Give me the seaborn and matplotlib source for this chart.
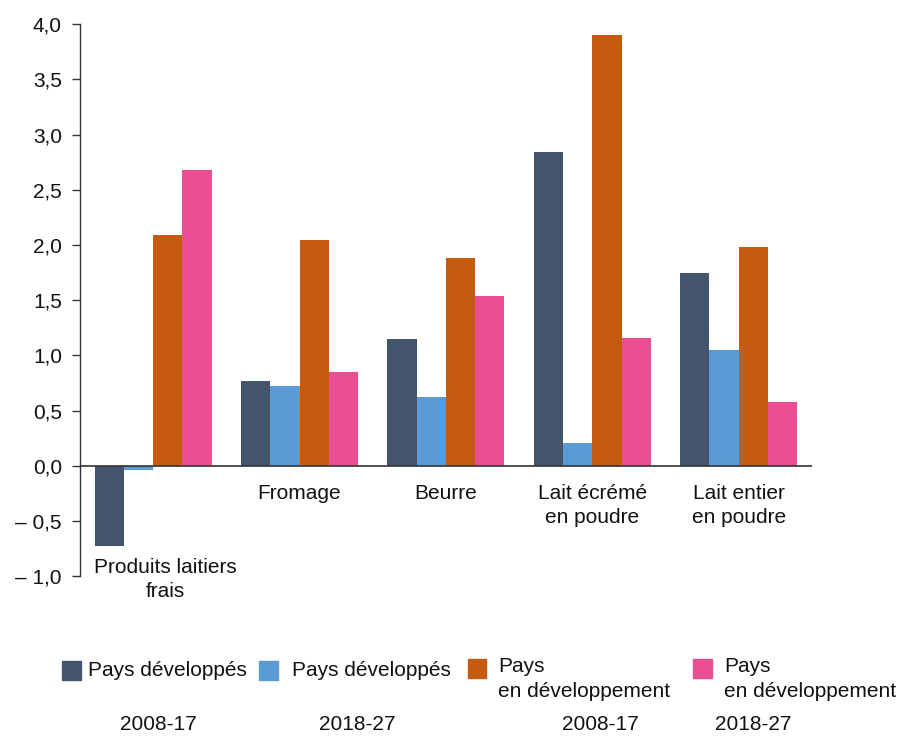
import matplotlib
matplotlib.use("Agg")
from matplotlib import pyplot as plt
from matplotlib.patches import Rectangle
import numpy as np
import pandas as pd
import seaborn as sns

categories = ["Produits laitiers\nfrais", "Fromage", "Beurre",
              "Lait écrémé\nen poudre", "Lait entier\nen poudre"]
series = ["dev_0817", "dev_1827", "ed_0817", "ed_1827"]
dev_0817 = [-0.73, 0.77, 1.15, 2.84, 1.75]
dev_1827 = [-0.04, 0.72, 0.62, 0.21, 1.05]
ed_0817 = [2.09, 2.05, 1.88, 3.90, 1.98]
ed_1827 = [2.68, 0.85, 1.54, 1.16, 0.58]
legend_labels = ["Pays développés", "Pays développés",
                 "Pays\nen développement", "Pays\nen développement"]
legend_years = ["2008-17", "2018-27", "2008-17", "2018-27"]
yticks = [-1.0, -0.5, 0.0, 0.5, 1.0, 1.5, 2.0, 2.5, 3.0, 3.5, 4.0]
colors = ["#44546A", "#5B9BD5", "#C55A11", "#EA4F93"]

df = pd.DataFrame({
    "cat": np.repeat(categories, 4),
    "serie": series * len(categories),
    "val": np.ravel(np.column_stack([dev_0817, dev_1827, ed_0817, ed_1827])),
})

sns.set_style("white")
plt.rcParams["font.family"] = ["Liberation Sans", "DejaVu Sans"]
FS = 15

fig = plt.figure(figsize=(8.99, 7.36), dpi=100)
ax = fig.add_axes([0.089, 0.217, 0.814, 0.750])
sns.barplot(data=df, x="cat", y="val", hue="serie", order=categories,
            hue_order=series, palette=colors, saturation=1, width=0.8,
            ax=ax, legend=False, edgecolor="none", errorbar=None)

ax.set_xlim(-0.5, 4.5)
ax.set_ylim(-1.0, 4.0)
ax.set_yticks(yticks)
ax.set_yticklabels([("– " if t < 0 else "") + f"{abs(t):.1f}".replace(".", ",")
                    for t in yticks], fontsize=FS)
ax.set_xticks([])
ax.set_xlabel("")
ax.set_ylabel("")
for s in ["top", "right", "bottom"]:
    ax.spines[s].set_visible(False)
ax.spines["left"].set_color("#333333")
ax.spines["left"].set_linewidth(1)
ax.tick_params(axis="y", direction="out", length=6, width=1, color="#333333",
               left=True, pad=7, labelcolor="#111111")
ax.axhline(0, color="#333333", lw=1.2, zorder=5)

# category labels under the zero line (first one sits below the negative bar)
for i, c in enumerate(categories):
    x, y = (i + 0.085, -0.83) if i == 0 else (i, -0.16)
    ax.text(x, y, c, ha="center", va="top", fontsize=FS, linespacing=1.38,
            color="#111111")

# legend at the bottom
patch_x = [62, 259, 468, 693]
text_x = [88, 292, 498, 724]
year_x = [158, 357, 600, 753]
W, H = 899, 736
for px, tx, yx, lab, yr, col in zip(patch_x, text_x, year_x, legend_labels,
                                    legend_years, colors):
    py = 661 if "\n" not in lab else 659
    fig.patches.append(Rectangle((px / W, 1 - (py + 18.5) / H), 18.5 / W, 18.5 / H,
                                 transform=fig.transFigure, color=col))
    if "\n" in lab:
        fig.text(tx / W, 1 - 657 / H, lab, ha="left", va="top",
                 fontsize=FS, linespacing=1.38, color="#111111")
    else:
        fig.text(tx / W, 1 - 670 / H, lab, ha="left", va="center",
                 fontsize=FS, color="#111111")
    fig.text(yx / W, 1 - 724 / H, yr, ha="center", va="center", fontsize=FS,
             color="#111111")

fig.savefig("out.png", dpi=100)
